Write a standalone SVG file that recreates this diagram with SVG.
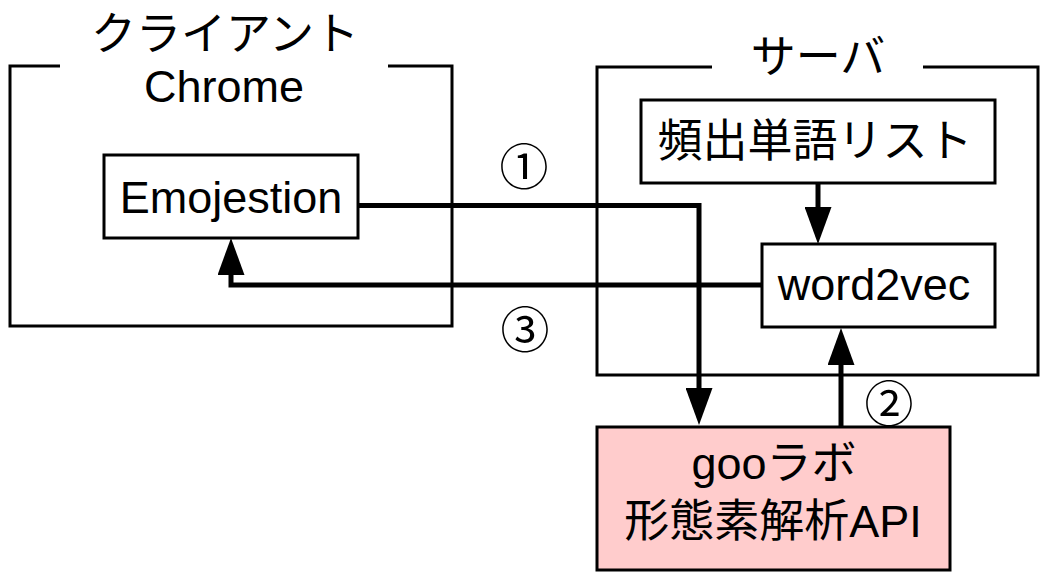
<svg xmlns="http://www.w3.org/2000/svg" width="1056" height="588" viewBox="0 0 1056 588">
  <defs>
    <style>
      .frame { fill: none; stroke: #000; stroke-width: 3; }
      .box { fill: #fff; stroke: #000; stroke-width: 3; }
      .api { fill: #ffcccc; stroke: #000; stroke-width: 3; }
      .conn { fill: none; stroke: #000; stroke-width: 5; }
      text { font-family: "Liberation Sans", "Noto Sans CJK JP", sans-serif; font-size: 45px; fill: #000; text-anchor: middle; }
      .num { font-family: "Noto Sans CJK JP", sans-serif; font-size: 49px; dominant-baseline: central; }
    </style>
    <marker id="ah" viewBox="0 0 37 27" refX="0" refY="13.5" markerWidth="37" markerHeight="27" markerUnits="userSpaceOnUse" orient="auto">
      <path d="M0,0 L37,13.5 L0,27 Z" fill="#000"/>
    </marker>
  </defs>

  <g id="client">
    <path class="frame" d="M60,66 H10 V326 H452 V66 H388"/>
    <text x="225" y="50">クライアント</text>
    <text x="224" y="102">Chrome</text>
  </g>

  <g id="server">
    <path class="frame" d="M712,67 H597 V375 H1038 V67 H923"/>
    <text x="818" y="73">サーバ</text>
  </g>

  <g id="emojestion">
    <rect class="box" x="104" y="155" width="254" height="83"/>
    <text x="231" y="213">Emojestion</text>
  </g>

  <g id="wordlist">
    <rect class="box" x="641" y="100" width="354" height="83"/>
    <text x="815" y="157">頻出単語リスト</text>
  </g>

  <g id="word2vec">
    <rect class="box" x="762" y="244" width="233" height="83"/>
    <text x="874" y="300">word2vec</text>
  </g>

  <g id="gooapi">
    <rect class="api" x="597" y="427" width="353" height="143"/>
    <text x="774" y="479">gooラボ</text>
    <text x="773" y="537">形態素解析API</text>
  </g>

  <g id="connectors">
    <path class="conn" d="M358,205.5 H699 V388" marker-end="url(#ah)"/>
    <path class="conn" d="M762,285 H231 V275" marker-end="url(#ah)"/>
    <path class="conn" d="M818,183 V207" marker-end="url(#ah)"/>
    <path class="conn" d="M841,427 V365" marker-end="url(#ah)"/>
  </g>

  <g id="labels">
    <text class="num" x="524" y="163">①</text>
    <text class="num" x="525" y="326">③</text>
    <text class="num" x="889" y="400">②</text>
  </g>
</svg>
